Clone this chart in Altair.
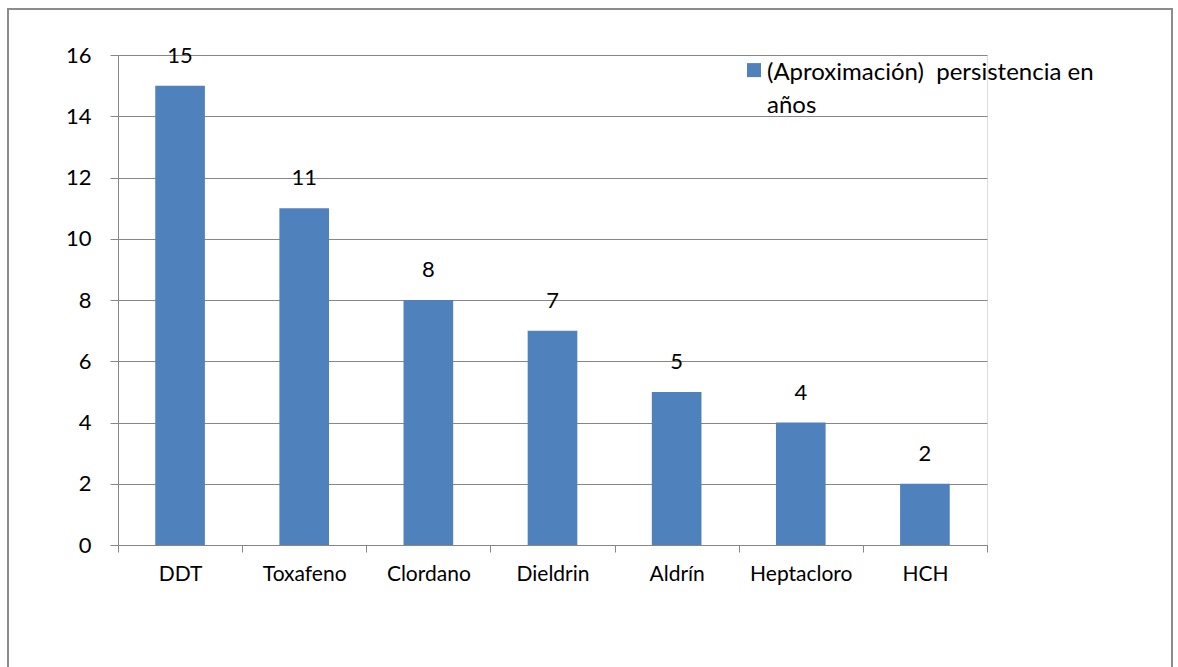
import altair as alt
import pandas as pd

# Persistencia aproximada de plaguicidas organoclorados (años)
compuestos = ["DDT", "Toxafeno", "Clordano", "Dieldrin", "Aldrín", "Heptacloro", "HCH"]
anios = [15, 11, 8, 7, 5, 4, 2]
serie = "(Aproximación)\u00a0 persistencia en años"
ticks_y = [0, 2, 4, 6, 8, 10, 12, 14, 16]

df = pd.DataFrame({"compuesto": compuestos, "anios": anios, "serie": [serie] * len(compuestos)})

FONT = "Lato"
GRIS = "#868686"
AZUL = "#4F81BD"

# square legend swatch drawn slightly below the label's first line origin
CUADRO = "M-1,0.3H1V2.3H-1Z"

x_enc = alt.X(
    "compuesto:N",
    sort=compuestos,
    title=None,
    scale=alt.Scale(paddingInner=0, paddingOuter=0),
    axis=alt.Axis(
        labelAngle=0,
        labelFont=FONT,
        labelFontSize=21,
        labelColor="#000000",
        labelPadding=11,
        tickBand="extent",
        tickColor=GRIS,
        tickSize=7,
        domainColor=GRIS,
        grid=False,
    ),
)
y_enc = alt.Y(
    "anios:Q",
    title=None,
    scale=alt.Scale(domain=[0, 16], nice=False),
    axis=alt.Axis(
        values=ticks_y,
        labelFont=FONT,
        labelFontSize=22,
        labelColor="#000000",
        labelPadding=19,
        tickColor=GRIS,
        tickSize=8,
        domainColor=GRIS,
        gridColor=GRIS,
        gridWidth=1,
    ),
)

marco = alt.Chart(df).mark_rect(
    fill=None, stroke="#8c8c8c", strokeWidth=2
).encode(
    x=alt.value(-110), x2=alt.value(1054), y=alt.value(-46), y2=alt.value(700)
)

barras = alt.Chart(df).mark_bar(width=alt.RelativeBandSize(0.4)).encode(
    x=x_enc,
    y=y_enc,
    color=alt.Color(
        "serie:N",
        scale=alt.Scale(range=[AZUL]),
        legend=alt.Legend(
            title=None,
            orient="none",
            legendX=624,
            legendY=-6,
            symbolType=CUADRO,
            symbolSize=196,
            symbolStrokeWidth=0,
            labelFont=FONT,
            labelFontSize=24,
            labelColor="#000000",
            labelLimit=600,
            labelOffset=1,
            labelBaseline="top",
            labelExpr="['(Aproximación)\u00a0 persistencia en', 'años']",
        ),
    ),
)

etiquetas = alt.Chart(df).mark_text(
    font=FONT, fontSize=22, color="#000000", dy=-23, baseline="alphabetic"
).encode(
    x=alt.X("compuesto:N", sort=compuestos),
    y="anios:Q",
    text="anios:Q",
)

chart = alt.layer(marco, barras, etiquetas).properties(
    width=869,
    height=490,
    autosize=alt.AutoSizeParams(type="none"),
    padding={"left": 118, "top": 55, "right": 191, "bottom": 122},
    background="#ffffff",
).configure_view(stroke=None).configure(
    style={"guide-label": {"lineHeight": 33}}
)

chart.save("out.html", embed_options={"renderer": "svg", "actions": False})
